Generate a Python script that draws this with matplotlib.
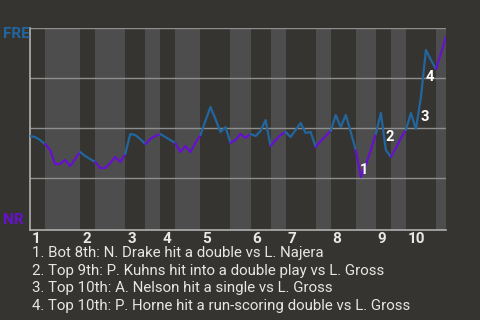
import matplotlib
matplotlib.use('Agg')
import matplotlib.pyplot as plt

# FRE win probability after each play
win_prob = [0.46, 0.455, 0.44, 0.42,
            0.39, 0.32, 0.32, 0.34, 0.31, 0.345, 0.38,
            0.36, 0.345, 0.33,
            0.30, 0.30, 0.325, 0.355, 0.33, 0.37,
            0.47, 0.465, 0.445, 0.42,
            0.445, 0.46, 0.47,
            0.455, 0.44, 0.425,
            0.38, 0.41, 0.38, 0.425, 0.465,
            0.535, 0.605, 0.545, 0.48, 0.505, 0.425,
            0.44, 0.47, 0.45, 0.47,
            0.46, 0.485, 0.54, 0.41,
            0.44, 0.465, 0.48,
            0.455, 0.49, 0.525, 0.475, 0.48, 0.405,
            0.435, 0.46, 0.485,
            0.565, 0.505, 0.565, 0.48, 0.39,
            0.255, 0.315, 0.39, 0.47,
            0.575, 0.39, 0.355,
            0.40, 0.45, 0.49,
            0.575, 0.495, 0.655, 0.89, 0.84, 0.795,
            0.875, 0.955]

# play index where each half inning starts (top 1, bot 1, top 2, ...), last = end
half_starts = [0, 3, 10, 13, 19, 23, 26, 29, 34, 40, 44, 48, 51, 57, 60, 65, 69, 72, 75, 81, 83]
innings = ['1', '2', '3', '4', '5', '6', '7', '8', '9', '10']

events = ['Bot 8th: N. Drake hit a double vs L. Najera',
          'Top 9th: P. Kuhns hit into a double play vs L. Gross',
          'Top 10th: A. Nelson hit a single vs L. Gross',
          'Top 10th: P. Horne hit a run-scoring double vs L. Gross']
event_plays = [66, 71, 77, 79]
event_offsets = [(3, 7), (4, 13), (9, 12), (4, -27)]

bg = '#363430'
band = '#4d4d4d'
blue = '#22669f'
purple = '#6610d0'

fig = plt.figure(figsize=(4.8, 3.2), dpi=100, facecolor=bg)
ax = fig.add_axes([30 / 480, 1 - 230 / 320, 416 / 480, 202 / 320])
ax.set_facecolor(bg)
ax.set_xlim(0, half_starts[-1])
ax.set_ylim(-0.01, 1.0)

# shaded bottom halves
for k in range(1, len(half_starts) - 1, 2):
    ax.axvspan(half_starts[k], half_starts[k + 1], color=band, lw=0, zorder=0)

for g in [0.25, 0.5, 0.75, 1.0]:
    ax.axhline(g, color='#8e8e8e', lw=1, zorder=1)

for k in range(len(half_starts) - 1):
    a, b = half_starts[k], half_starts[k + 1]
    ax.plot(range(a, b + 1), win_prob[a:b + 1], color=blue if k % 2 == 0 else purple,
            lw=1.6, zorder=3, solid_capstyle='round')

for i, (p, off) in enumerate(zip(event_plays, event_offsets)):
    ax.annotate(str(i + 1), (p, win_prob[p]), xytext=off, textcoords='offset pixels',
                ha='center', va='center', color='white', fontsize=10.5,
                fontweight='bold', family='Roboto', zorder=4)

for k, lab in enumerate(innings):
    ax.annotate(lab, (half_starts[2 * k], 0), xycoords=('data', 'axes fraction'),
                xytext=(2, -2), textcoords='offset pixels', ha='left', va='top',
                color='#e8e8e8', fontsize=11, fontweight='bold', family='Roboto')

for s in ['top', 'right']:
    ax.spines[s].set_visible(False)
for s in ['left', 'bottom']:
    ax.spines[s].set_color('#b0b0b0')
    ax.spines[s].set_linewidth(1.2)
ax.set_xticks([])
ax.set_yticks([])

fig.text(3 / 480, 1 - 34 / 320, 'FRE', color=blue, fontsize=11, fontweight='bold',
         family='Roboto', va='center', ha='left')
fig.text(3 / 480, 1 - 220 / 320, 'NR', color=purple, fontsize=11, fontweight='bold',
         family='Roboto', va='center', ha='left')

for i, ev in enumerate(events):
    fig.text(32 / 480, 1 - (253 + 17.7 * i) / 320, f'{i + 1}. {ev}', color='#e6e6e6',
             fontsize=10.8, family='Roboto', va='center', ha='left')

fig.savefig('out.png', dpi=100, facecolor=bg)
